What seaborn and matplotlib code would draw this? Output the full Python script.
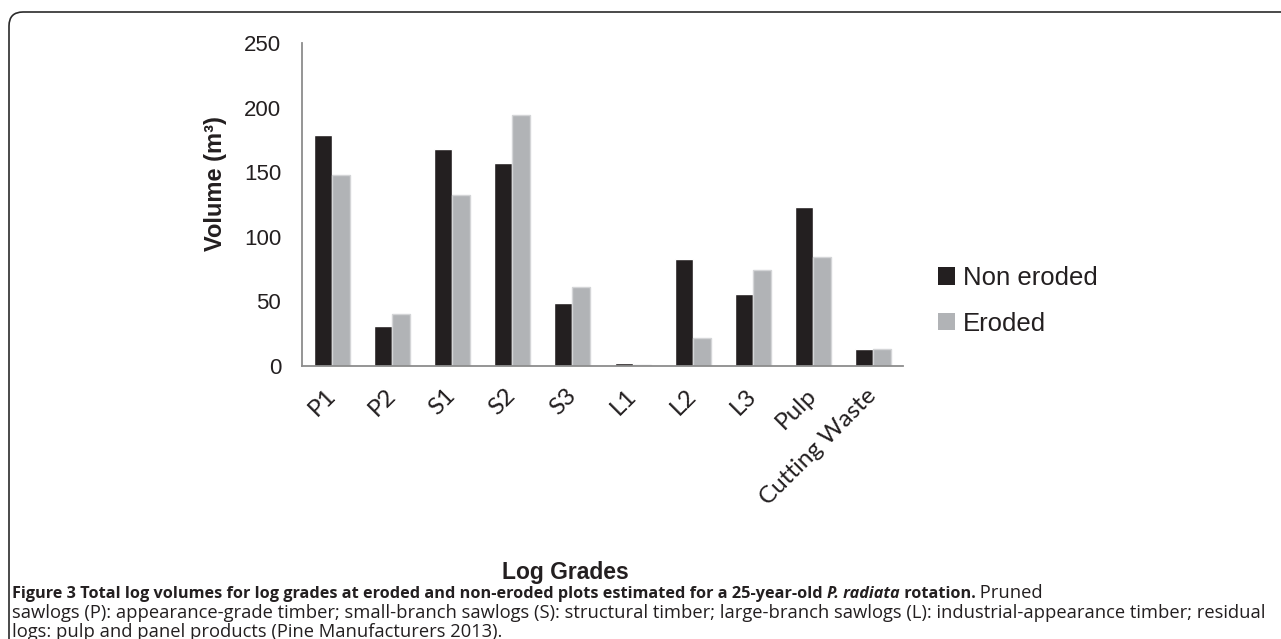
import numpy as np
import pandas as pd
import matplotlib
matplotlib.use('Agg')
import matplotlib.pyplot as plt
import matplotlib.patches as mpatches
import seaborn as sns

grades = ['P1', 'P2', 'S1', 'S2', 'S3', 'L1', 'L2', 'L3', 'Pulp', 'Cutting Waste']
non_eroded = [179, 31, 168, 157, 48.5, 2.3, 82.5, 55.5, 123, 13.5]
eroded = [148, 40, 132, 194.5, 61, 0.7, 21.5, 74.5, 84.5, 13.5]
series_names = ['Non eroded', 'Eroded']
colors = ['#231f20', '#b1b3b6']

df = pd.DataFrame({
    'grade': grades * 2,
    'volume': non_eroded + eroded,
    'series': [series_names[0]] * len(grades) + [series_names[1]] * len(grades),
})

sns.set_style('white')
plt.rcParams['font.family'] = ['Liberation Sans', 'DejaVu Sans']

fig = plt.figure(figsize=(12.81, 6.39), dpi=100)
ax = fig.add_axes([302 / 1281, 1 - 366 / 639, 601 / 1281, 323 / 639])

sns.barplot(data=df, x='grade', y='volume', hue='series', palette=colors,
            width=0.6, gap=0, ax=ax, legend=False, saturation=1)
for i, bar in enumerate(ax.patches):
    if i >= len(grades):
        bar.set_edgecolor('#d4d5d7')
        bar.set_linewidth(1.0)

axis_grey = '#8c8c8c'
ax.set_xlim(-0.5, len(grades) - 0.5)
ax.set_ylim(0, 250)
ax.set_yticks([0, 50, 100, 150, 200, 250])
for s in ['top', 'right']:
    ax.spines[s].set_visible(False)
for s in ['left', 'bottom']:
    ax.spines[s].set_color(axis_grey)
    ax.spines[s].set_linewidth(1.3)

ax.tick_params(axis='y', length=8, width=1.3, color=axis_grey, labelsize=16,
               pad=7, labelcolor='#231f20')
ax.set_xticks(range(len(grades)))
ax.set_xticklabels(grades, rotation=45, ha='right', va='center', rotation_mode='anchor',
                   fontsize=17.5, family=['Lato', 'DejaVu Sans'], color='#231f20')
ax.tick_params(axis='x', which='major', length=0, pad=19)
ax.set_xticks(np.arange(-0.5, len(grades)), minor=True)
ax.tick_params(axis='x', which='minor', length=7, width=1.3, color=axis_grey)
ax.set_xlabel('')
ax.set_ylabel('Volume (m³)', fontsize=17, fontweight='bold', color='#231f20')
ax.yaxis.set_label_coords(-0.125, 0.565)

fig.text(565 / 1281, 1 - 572 / 639, 'Log Grades', fontsize=16.5, fontweight='bold',
         ha='center', va='center', color='#231f20')

handles = [mpatches.Patch(facecolor=c, edgecolor='none') for c in colors]
ax.legend(handles, series_names, loc='center left',
          bbox_to_anchor=(938 / 1281, 1 - 301 / 639), bbox_transform=fig.transFigure,
          frameon=False, fontsize=18.5, handlelength=0.68, handleheight=0.65,
          handletextpad=0.3, labelspacing=0.85, labelcolor='#231f20',
          borderaxespad=0, borderpad=0)

# rounded frame around the figure
frame = mpatches.FancyBboxPatch((0.09, -0.5), 13.5, 6.77,
                                boxstyle='round,pad=0,rounding_size=0.14',
                                transform=fig.dpi_scale_trans, fill=False,
                                edgecolor='#2a2a2a', linewidth=1.2)
fig.add_artist(frame)

# caption
cap_font = ['Open Sans', 'DejaVu Sans']
fig.canvas.draw()
renderer = fig.canvas.get_renderer()


def put_line(pieces, x0, y):
    x = x0
    for txt, weight, style, size in pieces:
        t = fig.text(x, y, txt, fontsize=size, family=cap_font, fontweight=weight,
                     fontstyle=style, color='#231f20', va='baseline',
                     transform=None)
        x += t.get_window_extent(renderer=renderer).width


put_line([
    ('Figure 3 Total log volumes for log grades at eroded and non-eroded plots estimated for a 25-year-old ', 'bold', 'normal', 11.7),
    ('P. radiata', 'bold', 'italic', 11.7),
    (' rotation.', 'bold', 'normal', 11.7),
    (' Pruned', 'normal', 'normal', 13.2),
], 12, 639 - 598)
put_line([
    ('sawlogs (P): appearance-grade timber; small-branch sawlogs (S): structural timber; large-branch sawlogs (L): industrial-appearance timber; residual', 'normal', 'normal', 13.2),
], 12, 639 - 618)
put_line([
    ('logs: pulp and panel products (Pine Manufacturers 2013).', 'normal', 'normal', 13.2),
], 12, 639 - 637)

fig.savefig('out.png', dpi=100)
